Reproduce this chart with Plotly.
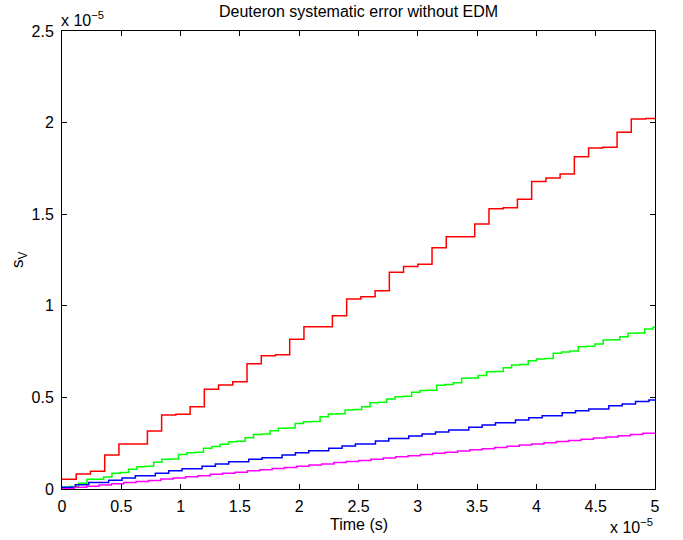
import numpy as np
import plotly.graph_objects as go

# Values are in units of 1e-5 (both axes), as shown by the "x 10^-5" exponent labels.
T_END = 5.0

# Red series: step length and levels
red_dt = 0.12
red_vals = [0.053, 0.082, 0.097, 0.186, 0.246, 0.246, 0.317, 0.404, 0.408, 0.449,
            0.544, 0.568, 0.586, 0.684, 0.728, 0.733, 0.817, 0.886, 0.886, 0.946,
            1.037, 1.050, 1.082, 1.183, 1.214, 1.227, 1.317, 1.377, 1.377, 1.446,
            1.530, 1.535, 1.581, 1.678, 1.698, 1.719, 1.814, 1.861, 1.865, 1.947,
            2.020, 2.023]

# Green series
green_dt = 0.0702
green_vals = [0.010, 0.013, 0.031, 0.053, 0.053, 0.066, 0.086, 0.090, 0.108, 0.122,
              0.124, 0.146, 0.162, 0.164, 0.189, 0.198, 0.200, 0.222, 0.232, 0.244,
              0.258, 0.260, 0.280, 0.298, 0.300, 0.318, 0.331, 0.333, 0.358, 0.367,
              0.369, 0.395, 0.409, 0.411, 0.431, 0.434, 0.449, 0.471, 0.473, 0.491,
              0.504, 0.506, 0.528, 0.537, 0.539, 0.566, 0.570, 0.580, 0.604, 0.606,
              0.620, 0.640, 0.642, 0.662, 0.677, 0.679, 0.700, 0.710, 0.713, 0.741,
              0.748, 0.753, 0.777, 0.779, 0.791, 0.813, 0.815, 0.831, 0.850, 0.852,
              0.873, 0.883]

# Blue series
blue_dt = 0.05623
blue_vals = [0.010, 0.010, 0.023, 0.023, 0.035, 0.035, 0.035, 0.048, 0.048, 0.060,
             0.060, 0.073, 0.073, 0.073, 0.086, 0.086, 0.099, 0.099, 0.111, 0.111,
             0.111, 0.124, 0.124, 0.136, 0.136, 0.149, 0.149, 0.149, 0.162, 0.162,
             0.171, 0.171, 0.171, 0.186, 0.186, 0.198, 0.198, 0.209, 0.209, 0.209,
             0.222, 0.222, 0.235, 0.235, 0.246, 0.246, 0.246, 0.262, 0.262, 0.275,
             0.275, 0.275, 0.289, 0.289, 0.300, 0.300, 0.311, 0.311, 0.322, 0.322,
             0.322, 0.337, 0.337, 0.349, 0.349, 0.362, 0.362, 0.362, 0.377, 0.377,
             0.389, 0.389, 0.400, 0.400, 0.400, 0.416, 0.416, 0.427, 0.427, 0.437,
             0.437, 0.437, 0.455, 0.455, 0.464, 0.464, 0.477, 0.477, 0.486]

# Magenta series
magenta_dt = 0.1042
magenta_vals = [0.002, 0.009, 0.015, 0.022, 0.028, 0.035, 0.041, 0.047, 0.054, 0.060,
                0.067, 0.073, 0.080, 0.086, 0.092, 0.099, 0.105, 0.112, 0.118, 0.124,
                0.131, 0.137, 0.144, 0.150, 0.156, 0.163, 0.169, 0.176, 0.182, 0.188,
                0.195, 0.201, 0.208, 0.214, 0.220, 0.227, 0.233, 0.240, 0.246, 0.252,
                0.259, 0.265, 0.272, 0.278, 0.284, 0.291, 0.297, 0.304]

x_ticks = [0, 0.5, 1, 1.5, 2, 2.5, 3, 3.5, 4, 4.5, 5]
x_tick_labels = ["0", "0.5", "1", "1.5", "2", "2.5", "3", "3.5", "4", "4.5", "5"]
y_ticks = [0, 0.5, 1, 1.5, 2, 2.5]
y_tick_labels = ["0", "0.5", "1", "1.5", "2", "2.5"]

series = [
    ("red", red_dt, red_vals, "#ff0000"),
    ("green", green_dt, green_vals, "#00ff00"),
    ("blue", blue_dt, blue_vals, "#0000ff"),
    ("magenta", magenta_dt, magenta_vals, "#ff00ff"),
]

FONT = "Liberation Sans, Arial, Helvetica, sans-serif"
FS = 16

fig = go.Figure()
for name, dt, vals, col in series:
    t = list(np.arange(len(vals)) * dt) + [T_END]
    v = list(vals) + [vals[-1]]
    fig.add_trace(go.Scatter(x=t, y=v, mode="lines", line=dict(color=col, width=1.5, shape="hv"),
                             name=name, showlegend=False, hoverinfo="skip"))

axis_common = dict(showline=True, linecolor="black", linewidth=1, mirror="allticks",
                   ticks="inside", ticklen=5, tickcolor="black", tickwidth=1,
                   showgrid=False, zeroline=False,
                   tickfont=dict(family=FONT, size=FS, color="black"))

fig.update_xaxes(range=[0, 5], tickvals=x_ticks, ticktext=x_tick_labels,
                 ticklabelstandoff=3, **axis_common)
fig.update_yaxes(range=[0, 2.5], tickvals=y_ticks, ticktext=y_tick_labels,
                 ticklabelstandoff=4, **axis_common)

fig.update_layout(
    width=683, height=540,
    margin=dict(l=62, r=28, t=31, b=51),
    paper_bgcolor="white", plot_bgcolor="white",
    font=dict(family=FONT, size=FS, color="black"),
    title=dict(text="Deuteron systematic error without EDM", x=0.525, xanchor="center",
               y=0.978, yanchor="middle", font=dict(family=FONT, size=FS, color="black")),
    annotations=[
        dict(text="x 10<sup>\u22125</sup>", xref="paper", yref="paper", x=-0.005, y=1,
             xanchor="left", yanchor="bottom", yshift=0, showarrow=False,
             font=dict(family=FONT, size=FS)),
        dict(text="x 10<sup>\u22125</sup>", xref="paper", yref="paper", x=1.0, y=0,
             xanchor="right", yanchor="top", yshift=-25, showarrow=False,
             font=dict(family=FONT, size=FS)),
        dict(text="Time (s)", xref="paper", yref="paper", x=0.5, y=0,
             xanchor="center", yanchor="top", yshift=-25, showarrow=False,
             font=dict(family=FONT, size=FS)),
        dict(text="s<sub>V</sub>", xref="paper", yref="paper", x=0, y=0.5,
             xanchor="right", yanchor="middle", xshift=-30, textangle=-90, showarrow=False,
             font=dict(family=FONT, size=FS + 1)),
    ],
)

# Remove the default page margin so the 683x540 figure fills the window exactly.
fig.write_html("out.html", config={"displayModeBar": False},
               post_script="document.body.style.margin='0';")
